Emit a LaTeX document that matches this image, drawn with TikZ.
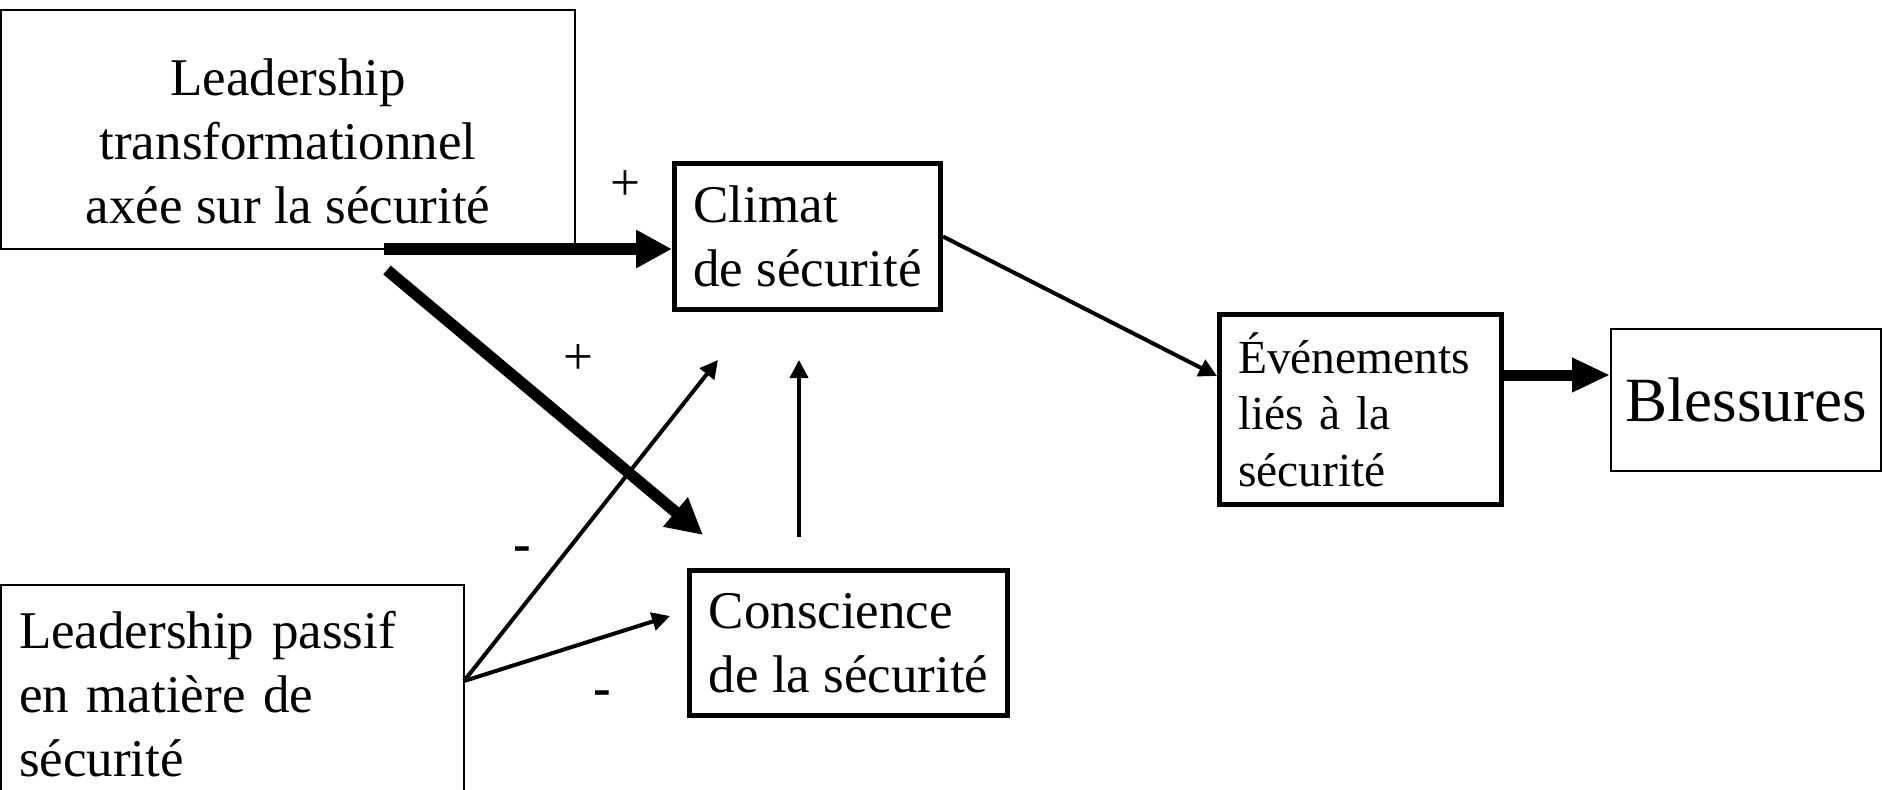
\documentclass[tikz,border=0pt]{standalone}
\usepackage{fontspec}
\setmainfont{Liberation Serif}
\usetikzlibrary{arrows.meta}
\tikzset{
  thinbox/.style={draw,line width=0.9pt,inner sep=0pt,font=\fontsize{26.5}{32}\selectfont},
  thickbox/.style={draw,line width=2.5pt,inner sep=0pt,font=\fontsize{26.5}{32}\selectfont},
  boldarrow/.style={line width=5.75pt,-{Triangle[length=18pt,width=18pt]}},
  finearrow/.style={line width=2pt,-{Triangle[length=9pt,width=9pt]}},
  sign/.style={inner sep=0pt,font=\fontsize{26.5}{32}\selectfont}
}

\begin{document}
\begin{tikzpicture}[x=0.5pt,y=-0.5pt]
  \useasboundingbox (0,0) rectangle (1884,789);
  % boxes
  \node[thinbox,minimum width=287pt,minimum height=119.5pt,align=center] (tfl) at (288,129.5)
    {\rule{0pt}{30pt}Leadership\\transformationnel\\axée sur la sécurité};
  \node[thickbox,minimum width=133pt,minimum height=73pt,align=left] (climat) at (807.5,236.5)
    {Climat\\de sécurité};
  \node[thickbox,minimum width=159pt,minimum height=72.5pt,align=left] (conscience) at (848.5,643)
    {Conscience\\de la sécurité};
  \node[thickbox,minimum width=141pt,minimum height=95pt,text width=122.5pt,align=left,
    font=\fontsize{23.75}{28.25}\selectfont] (evt) at (1360.5,409.5)
    {Événements\\liés à la\\sécurité};
  \node[thinbox,minimum width=135pt,minimum height=71pt,font=\fontsize{31.5}{36}\selectfont] (bless) at (1746,400)
    {Blessures};
  \node[thinbox,minimum width=231.5pt,minimum height=109pt,text width=213.5pt,align=left] (passif) at (232.5,694)
    {Leadership passif\\en matière de\\sécurité};

  % free ends
  \coordinate (t1) at (384,249);
  \coordinate (d1) at (387,270);
  \coordinate (d2) at (703,535);
  \coordinate (p0) at (464,681);
  \coordinate (p1) at (718,360);
  \coordinate (p2) at (670,616);
  \coordinate (c1) at (799,537);
  \coordinate (c2) at (799,360);
  \coordinate (e1) at (1217,376);
  \coordinate (eb) at (1504,375);

  % arrows
  \draw[boldarrow] (t1) -- (climat.west |- t1);
  \draw[boldarrow] (d1) -- (d2);
  \draw[finearrow] (p0) -- (p1);
  \draw[finearrow] (p0) -- (p2);
  \draw[finearrow] (c1) -- (c2);
  \draw[finearrow] (climat.east) -- (e1);
  \draw[line width=5.5pt,-{Triangle[length=19pt,width=16pt]}] (evt.east |- eb) -- (bless.west |- eb);

  % signs
  \node[sign] (s1) at (625,186) {+};
  \node[sign] (s2) at (578,360) {+};
  \node[sign,font=\fontsize{26.5}{32}\selectfont\bfseries] (s3) at (522,554) {-};
  \node[sign,font=\fontsize{26.5}{32}\selectfont\bfseries] (s4) at (602,698) {-};
\end{tikzpicture}
\end{document}
